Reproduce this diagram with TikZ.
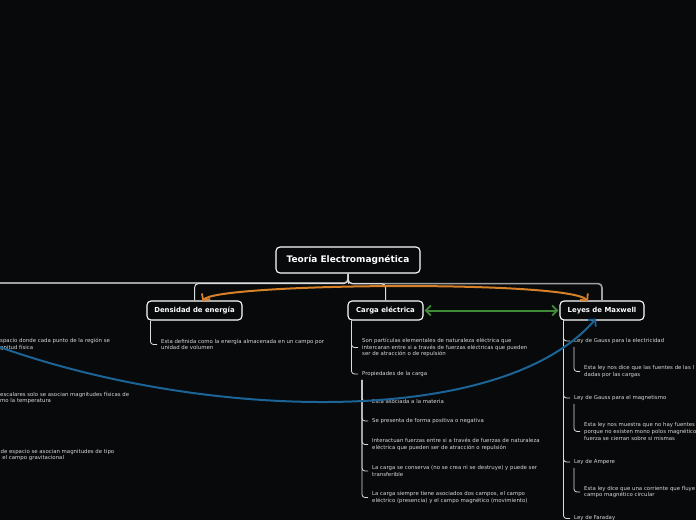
\documentclass[tikz,border=0pt]{standalone}
\usepackage{fontspec}
\setmainfont{DejaVu Sans}
\usetikzlibrary{arrows.meta,calc}
\definecolor{bg}{RGB}{7,9,11}
\definecolor{txt}{RGB}{215,215,215}
\definecolor{lgray}{RGB}{160,160,160}
\definecolor{lwhite}{RGB}{220,220,220}
\definecolor{corange}{RGB}{214,128,40}
\definecolor{cgreen}{RGB}{62,140,52}
\definecolor{cblue}{RGB}{28,100,150}
\tikzset{
  topic/.style={draw=white,line width=1.1pt,rounded corners=4pt,fill=bg,text=white,inner sep=0pt,
     font=\bfseries\fontsize{6.9}{8}\selectfont},
  rootbox/.style={topic,font=\bfseries\fontsize{9}{10}\selectfont},
  item/.style={anchor=west,inner sep=0pt,text=txt,align=left,font=\fontsize{5.4}{6.6}\selectfont},
  tree/.style={draw=lwhite,line width=0.8pt,rounded corners=3pt},
  branch/.style={draw=lwhite,line width=1pt,rounded corners=4pt},
  mainline/.style={draw=lgray,line width=1.6pt,rounded corners=4pt},
  rel/.style={line width=2pt,arrows={Straight Barb[length=5pt,width=10pt,line width=1.8pt]-Straight Barb[length=5pt,width=10pt,line width=1.8pt]}},
  relend/.style={line width=2pt,arrows={-Straight Barb[length=5pt,width=10pt,line width=1.8pt]}}
}
\begin{document}
\begin{tikzpicture}[x=1pt,y=-1pt]
\fill[bg] (0,0) rectangle (696,520);
\useasboundingbox (0,0) rectangle (696,520);

% main nodes
\node[rootbox,minimum width=144pt,minimum height=26pt] (root) at (348,260) {Teoría Electromagnética};
\node[topic,minimum width=95pt,minimum height=19pt] (dens) at (194.5,310.5) {Densidad de energía};
\node[topic,minimum width=75pt,minimum height=19pt] (carga) at (385.5,310.5) {Carga eléctrica};
\node[topic,minimum width=84pt,minimum height=19pt] (max) at (602,310.5) {Leyes de Maxwell};
\coordinate (offl) at (-20,283);
\coordinate (offb) at (-6,345);

% branches from root
\draw[mainline] (root.south) |- (offl);
\draw[mainline] (root.south) -- ++(0,10) -| (max.north);
\draw[branch] (root.south) -- ++(0,10) -| (dens.north);
\draw[branch] (root.south) -- ++(0,10) -| (carga.north);
\draw[branch] (root.south) -- ++(0,10);

% left (off-canvas) texts
\node[item] (l1) at (0,344.5) {spacio donde cada punto de la región se\\gnitud física};
\node[item] (l2) at (0,398) {escalares solo se asocian magnitudes físicas de\\mo la temperatura};
\node[item] (l3) at (0.5,455) {de espacio se asocian magnitudes de tipo\\\ el campo gravitacional};

% Densidad
\node[item] (d1) at (161,344.5) {Esta definida como la energía almacenada en un campo por\\unidad de volumen};
\draw[tree] ($(dens.south west)+(4,0)$) |- ([xshift=-4pt]d1.west);

% Carga
\node[item] (c1) at (362,347.5) {Son partículas elementales de naturaleza eléctrica que\\intercaran entre si a través de fuerzas eléctricas que pueden\\ser de atracción o de repulsión};
\node[item] (c2) at (362,374) {Propiedades de la carga};
\draw[tree] ($(carga.south west)+(4,0)$) |- ([xshift=-4pt]c1.west);
\draw[tree] ($(carga.south west)+(4,0)$) |- ([xshift=-4pt]c2.west);

\node[item] (p1) at (372,401) {Esta asociada a la materia};
\node[item] (p2) at (372,421) {Se presenta de forma positiva o negativa};
\node[item] (p3) at (372,444.5) {Interactuan fuerzas entre si a través de fuerzas de naturaleza\\eléctrica que pueden ser de atracción o repulsión};
\node[item] (p4) at (372,471) {La carga se conserva (no se crea ni se destruye) y puede ser\\transferible};
\node[item] (p5) at (372,497.5) {La carga siempre tiene asociados dos campos, el campo\\eléctrico (presencia) y el campo magnético (movimiento)};
\foreach \p in {p1,p2,p3,p4,p5}
  \draw[tree] ($(c2.south west)+(0,3)$) |- ([xshift=-4pt]\p.west);

% Maxwell
\node[item] (m1) at (574,341) {Ley de Gauss para la electricidad};
\node[item] (m1a) at (584,371.5) {Esta ley nos dice que las fuentes de las l\\dadas por las cargas};
\node[item] (m2) at (574,398) {Ley de Gauss para el magnetismo};
\node[item] (m2a) at (584,431.5) {Esta ley nos muestra que no hay fuentes\\porque no existen mono polos magnético\\fuerza se cierran sobre si mismas};
\node[item] (m3) at (574,462) {Ley de Ampere};
\node[item] (m3a) at (584,492) {Esta ley dice que una corriente que fluye\\campo magnético circular};
\node[item] (m4) at (574,518.5) {Ley de Faraday};
\foreach \m in {m1,m2,m3,m4}
  \draw[tree] ($(max.south west)+(4,0)$) |- ([xshift=-4pt]\m.west);
\draw[tree] ($(m1.south west)+(0,3)$) |- ([xshift=-4pt]m1a.west);
\draw[tree] ($(m2.south west)+(0,3)$) |- ([xshift=-4pt]m2a.west);
\draw[tree] ($(m3.south west)+(0,3)$) |- ([xshift=-4pt]m3a.west);

% relationships
\draw[rel,corange] ([xshift=8pt,yshift=-1pt]dens.north) .. controls (215,283) and (570,280) .. ([xshift=-14pt,yshift=-1pt]max.north);
\draw[rel,cgreen] ([xshift=1pt]carga.east) -- ([xshift=-1pt]max.west);
\draw[relend,cblue] (offb) .. controls (200,420) and (500,430) .. ([xshift=-6pt,yshift=2pt]max.south);
\end{tikzpicture}
\end{document}
